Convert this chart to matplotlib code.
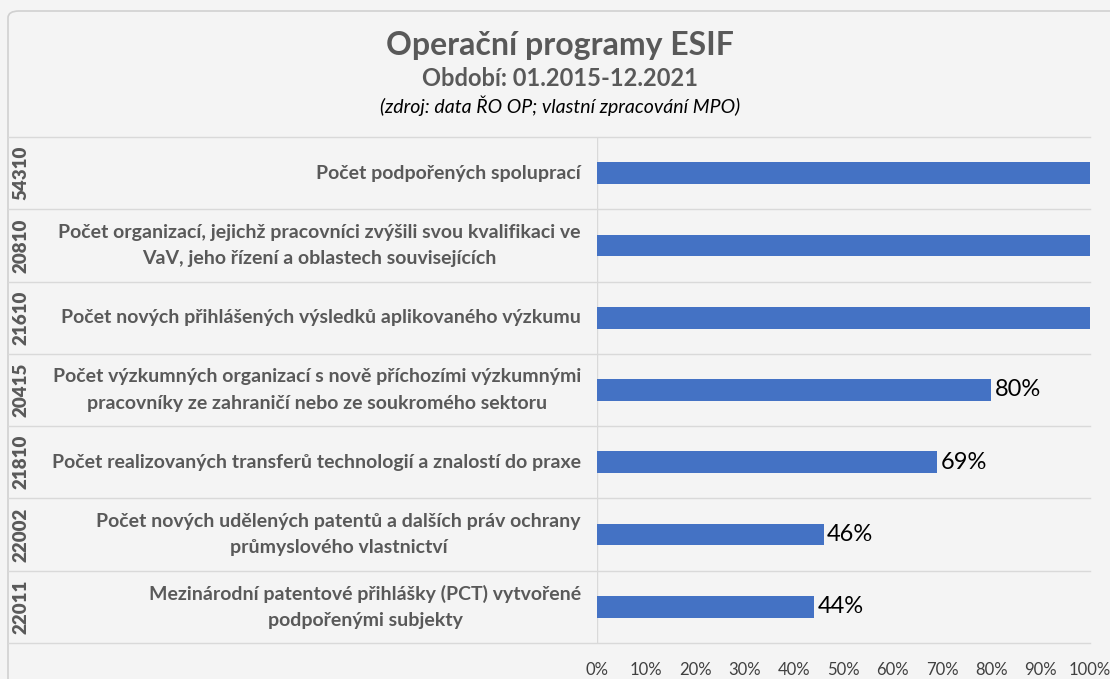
import matplotlib.pyplot as plt
import matplotlib.transforms as mtransforms
from matplotlib.patches import FancyBboxPatch
from matplotlib.ticker import PercentFormatter

plt.rcParams['font.family'] = ['Lato', 'DejaVu Sans']

codes = ['54310', '20810', '21610', '20415', '21810', '22002', '22011']
labels = [
    'Počet podpořených spoluprací',
    'Počet organizací, jejichž pracovníci zvýšili svou kvalifikaci ve\nVaV, jeho řízení a oblastech souvisejících',
    'Počet nových přihlášených výsledků aplikovaného výzkumu',
    'Počet výzkumných organizací s nově příchozími výzkumnými\npracovníky ze zahraničí nebo ze soukromého sektoru',
    'Počet realizovaných transferů technologií a znalostí do praxe',
    'Počet nových udělených patentů a dalších práv ochrany\nprůmyslového vlastnictví',
    'Mezinárodní patentové přihlášky (PCT) vytvořené\npodpořenými subjekty',
]
values = [100, 100, 100, 80, 69, 46, 44]

W, H = 1110, 679
fig = plt.figure(figsize=(W / 100, H / 100), dpi=100)
fig.patch.set_facecolor('#F4F4F4')

# chart frame (cut off on the right and bottom like the screenshot)
frame = FancyBboxPatch((8 / W, 1 - 690 / H), 1120 / W, 679 / H,
                       boxstyle='round,pad=0,rounding_size=0.01',
                       transform=fig.transFigure, facecolor='none',
                       edgecolor='#D0D0D0', linewidth=1.2, zorder=-1)
fig.patches.append(frame)

ax = fig.add_axes([597 / W, 1 - 643 / H, (1090 - 597) / W, (643 - 137) / H])
ax.set_facecolor('none')

y = list(range(len(codes)))
ax.barh(y, values, height=0.3, color='#4472C4', zorder=3)
ax.set_xlim(0, 100)
ax.set_ylim(len(codes) - 0.5, -0.5)
ax.set_xticks(range(0, 101, 10))
ax.xaxis.set_major_formatter(PercentFormatter(decimals=0))
ax.set_yticks([])
ax.tick_params(axis='x', length=0, labelsize=12, colors='#404040', pad=14)
for s in ax.spines.values():
    s.set_visible(False)
ax.axvline(0, color='#D9D9D9', linewidth=1, zorder=1)

for yi, v in zip(y, values):
    if v < 100:
        ax.text(v + 0.7, yi, f'{v}%', va='center', ha='left', fontsize=17, color='#000000')

# row separators across the category area
tr = mtransforms.blended_transform_factory(fig.transFigure, ax.transData)
for b in [i - 0.5 for i in range(len(codes) + 1)]:
    ax.plot([8 / W, 1090 / W], [b, b], transform=tr, color='#D9D9D9',
            linewidth=1, clip_on=False, zorder=1)

for yi, c, lab in zip(y, codes, labels):
    ax.text(21 / W, yi, c, transform=tr, rotation=90, ha='center', va='center',
            fontsize=13.5, fontweight='heavy', color='#595959')
    ax.text(581 / W, yi, lab, transform=tr, ha='right', va='center',
            multialignment='center', fontsize=14, fontweight='bold',
            color='#595959', linespacing=1.7)

fig.text(560 / W, 1 - 45 / H, 'Operační programy ESIF', ha='center', va='center',
         fontsize=23, fontweight='bold', color='#595959')
fig.text(560 / W, 1 - 78 / H, 'Období: 01.2015-12.2021', ha='center', va='center',
         fontsize=17, fontweight='bold', color='#595959')
fig.text(560 / W, 1 - 106 / H, '(zdroj: data ŘO OP; vlastní zpracování MPO)',
         ha='center', va='center', fontsize=14, style='italic', color='#000000')

fig.savefig('out.png', dpi=100, facecolor=fig.get_facecolor())
